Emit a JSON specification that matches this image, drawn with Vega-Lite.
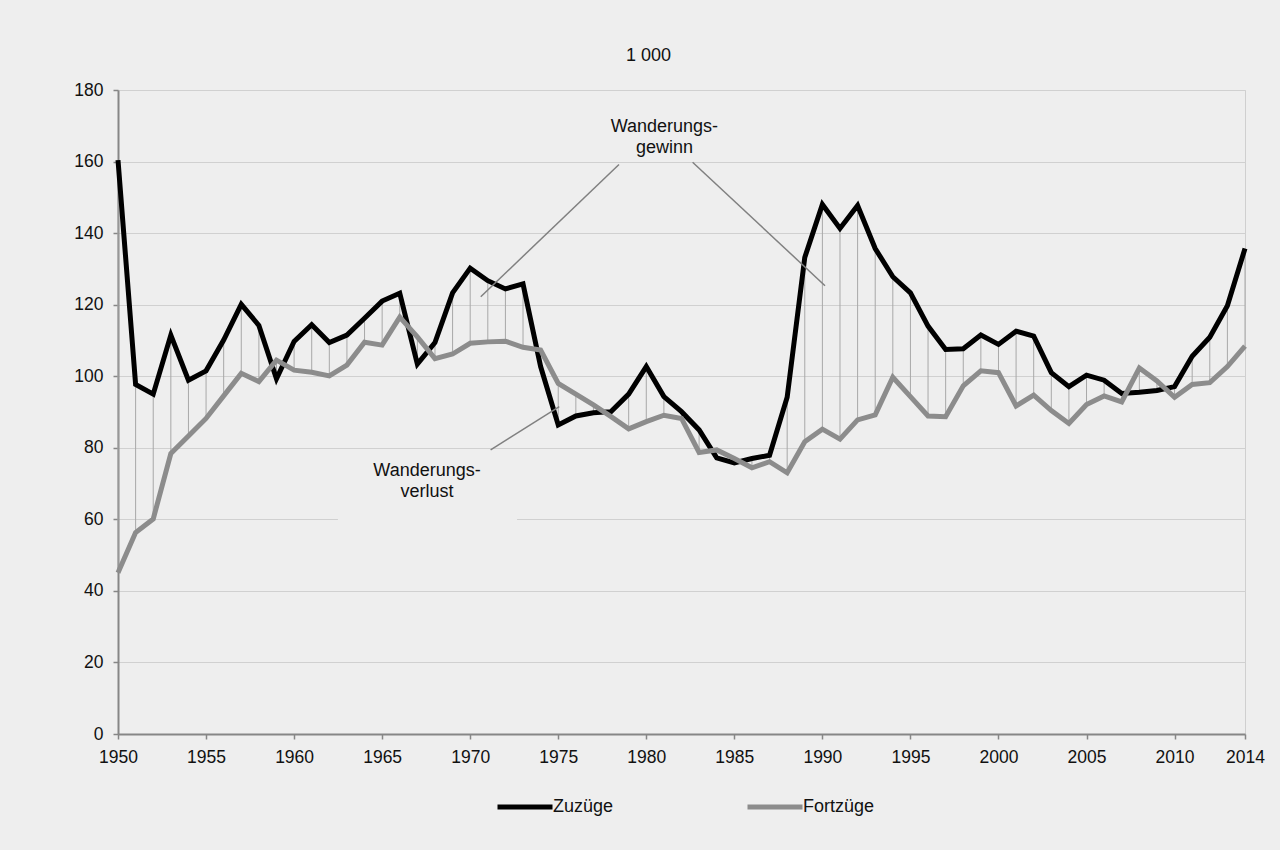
{
  "$schema": "https://vega.github.io/schema/vega-lite/v6.json",
  "width": 1127,
  "height": 644,
  "autosize": {"type": "none"},
  "padding": {"left": 118, "top": 90, "right": 35, "bottom": 116},
  "background": "#eeeeee",
  "title": {"text": "1 000", "anchor": "middle", "dx": -33, "baseline": "alphabetic", "offset": 2, "fontSize": 18, "fontWeight": "normal", "color": "#111111", "font": "Liberation Sans"},
  "datasets": {
    "wide": [
      {"year": 1950, "Zuzüge": 160.4, "Fortzüge": 45.1},
      {"year": 1951, "Zuzüge": 97.7, "Fortzüge": 56.3},
      {"year": 1952, "Zuzüge": 95.0, "Fortzüge": 60.1},
      {"year": 1953, "Zuzüge": 111.5, "Fortzüge": 78.4},
      {"year": 1954, "Zuzüge": 98.9, "Fortzüge": 83.3},
      {"year": 1955, "Zuzüge": 101.5, "Fortzüge": 88.2},
      {"year": 1956, "Zuzüge": 110.1, "Fortzüge": 94.5},
      {"year": 1957, "Zuzüge": 120.1, "Fortzüge": 100.8},
      {"year": 1958, "Zuzüge": 114.2, "Fortzüge": 98.5},
      {"year": 1959, "Zuzüge": 99.3, "Fortzüge": 104.5},
      {"year": 1960, "Zuzüge": 109.7, "Fortzüge": 101.7},
      {"year": 1961, "Zuzüge": 114.4, "Fortzüge": 101.1},
      {"year": 1962, "Zuzüge": 109.4, "Fortzüge": 100.1},
      {"year": 1963, "Zuzüge": 111.5, "Fortzüge": 103.1},
      {"year": 1964, "Zuzüge": 116.2, "Fortzüge": 109.5},
      {"year": 1965, "Zuzüge": 121.0, "Fortzüge": 108.7},
      {"year": 1966, "Zuzüge": 123.2, "Fortzüge": 116.5},
      {"year": 1967, "Zuzüge": 103.4, "Fortzüge": 111.0},
      {"year": 1968, "Zuzüge": 109.4, "Fortzüge": 104.9},
      {"year": 1969, "Zuzüge": 123.3, "Fortzüge": 106.2},
      {"year": 1970, "Zuzüge": 130.2, "Fortzüge": 109.2},
      {"year": 1971, "Zuzüge": 126.7, "Fortzüge": 109.6},
      {"year": 1972, "Zuzüge": 124.4, "Fortzüge": 109.8},
      {"year": 1973, "Zuzüge": 125.8, "Fortzüge": 108.1},
      {"year": 1974, "Zuzüge": 102.7, "Fortzüge": 107.3},
      {"year": 1975, "Zuzüge": 86.4, "Fortzüge": 98.0},
      {"year": 1976, "Zuzüge": 88.9, "Fortzüge": 95.0},
      {"year": 1977, "Zuzüge": 89.8, "Fortzüge": 92.0},
      {"year": 1978, "Zuzüge": 90.1, "Fortzüge": 88.7},
      {"year": 1979, "Zuzüge": 95.0, "Fortzüge": 85.3},
      {"year": 1980, "Zuzüge": 102.7, "Fortzüge": 87.3},
      {"year": 1981, "Zuzüge": 94.3, "Fortzüge": 89.1},
      {"year": 1982, "Zuzüge": 90.1, "Fortzüge": 88.2},
      {"year": 1983, "Zuzüge": 85.0, "Fortzüge": 78.7},
      {"year": 1984, "Zuzüge": 77.2, "Fortzüge": 79.4},
      {"year": 1985, "Zuzüge": 75.8, "Fortzüge": 77.0},
      {"year": 1986, "Zuzüge": 77.0, "Fortzüge": 74.4},
      {"year": 1987, "Zuzüge": 77.9, "Fortzüge": 76.1},
      {"year": 1988, "Zuzüge": 94.1, "Fortzüge": 73.0},
      {"year": 1989, "Zuzüge": 133.2, "Fortzüge": 81.7},
      {"year": 1990, "Zuzüge": 148.0, "Fortzüge": 85.2},
      {"year": 1991, "Zuzüge": 141.3, "Fortzüge": 82.4},
      {"year": 1992, "Zuzüge": 147.7, "Fortzüge": 87.8},
      {"year": 1993, "Zuzüge": 135.7, "Fortzüge": 89.2},
      {"year": 1994, "Zuzüge": 127.8, "Fortzüge": 99.7},
      {"year": 1995, "Zuzüge": 123.3, "Fortzüge": 94.3},
      {"year": 1996, "Zuzüge": 114.0, "Fortzüge": 88.9},
      {"year": 1997, "Zuzüge": 107.5, "Fortzüge": 88.7},
      {"year": 1998, "Zuzüge": 107.7, "Fortzüge": 97.3},
      {"year": 1999, "Zuzüge": 111.5, "Fortzüge": 101.5},
      {"year": 2000, "Zuzüge": 108.9, "Fortzüge": 101.0},
      {"year": 2001, "Zuzüge": 112.6, "Fortzüge": 91.7},
      {"year": 2002, "Zuzüge": 111.2, "Fortzüge": 94.7},
      {"year": 2003, "Zuzüge": 101.0, "Fortzüge": 90.4},
      {"year": 2004, "Zuzüge": 97.1, "Fortzüge": 86.8},
      {"year": 2005, "Zuzüge": 100.3, "Fortzüge": 92.1},
      {"year": 2006, "Zuzüge": 98.9, "Fortzüge": 94.5},
      {"year": 2007, "Zuzüge": 95.2, "Fortzüge": 92.8},
      {"year": 2008, "Zuzüge": 95.5, "Fortzüge": 102.3},
      {"year": 2009, "Zuzüge": 96.0, "Fortzüge": 98.7},
      {"year": 2010, "Zuzüge": 97.1, "Fortzüge": 94.1},
      {"year": 2011, "Zuzüge": 105.6, "Fortzüge": 97.7},
      {"year": 2012, "Zuzüge": 110.9, "Fortzüge": 98.2},
      {"year": 2013, "Zuzüge": 119.7, "Fortzüge": 102.7},
      {"year": 2014, "Zuzüge": 135.7, "Fortzüge": 108.4}
    ],
    "leaders": [
      {"x": 1978.45, "y": 159.2, "x2": 1970.6, "y2": 122.2},
      {"x": 1982.63, "y": 159.8, "x2": 1990.15, "y2": 125.3},
      {"x": 1971.16, "y": 79.4, "x2": 1975.06, "y2": 91.5}
    ],
    "labels": [
      {"x": 1981.03, "y": 169.7, "label": "Wanderungs-\ngewinn"},
      {"x": 1967.55, "y": 73.6, "label": "Wanderungs-\nverlust"}
    ],
    "boxes": [
      {"x": 1962.49, "x2": 1972.66, "y": 58.5, "y2": 79.2}
    ]
  },
  "layer": [
    {
      "data": {"name": "boxes"},
      "mark": {"type": "rect", "fill": "#eeeeee", "stroke": null},
      "encoding": {
        "x": {"field": "x", "type": "quantitative", "title": null,
              "scale": {"domain": [1950, 2014], "nice": false, "zero": false},
              "axis": {"values": [1950, 1955, 1960, 1965, 1970, 1975, 1980, 1985, 1990, 1995, 2000, 2005, 2010, 2014], "format": "d", "grid": false, "labelFlush": false, "labelOverlap": false}},
        "x2": {"field": "x2"},
        "y": {"field": "y", "type": "quantitative", "title": null,
              "scale": {"domain": [0, 180], "nice": false},
              "axis": {"values": [0, 20, 40, 60, 80, 100, 120, 140, 160, 180], "grid": true}},
        "y2": {"field": "y2"}
      }
    },
    {
      "data": {"name": "wide"},
      "mark": {"type": "rule", "color": "#a8a8a8", "strokeWidth": 1},
      "encoding": {
        "x": {"field": "year", "type": "quantitative", "title": null},
        "y": {"field": "Zuzüge", "type": "quantitative", "title": null},
        "y2": {"field": "Fortzüge"}
      }
    },
    {
      "data": {"name": "wide"},
      "mark": {"type": "line", "strokeWidth": 5},
      "encoding": {
        "x": {"field": "year", "type": "quantitative", "title": null},
        "y": {"field": "Zuzüge", "type": "quantitative", "title": null},
        "color": {"datum": "Zuzüge", "type": "nominal",
                  "scale": {"domain": ["Zuzüge", "Fortzüge"], "range": ["#000000", "#8c8c8c"]},
                  "legend": {"orient": "none", "legendX": 377, "legendY": 687, "direction": "horizontal", "title": null,
                             "symbolType": "stroke", "symbolSize": 3025, "symbolStrokeWidth": 5,
                             "labelFontSize": 18, "labelOffset": -2, "columnPadding": 123, "labelColor": "#111111", "labelFont": "Liberation Sans"}}
      }
    },
    {
      "data": {"name": "wide"},
      "mark": {"type": "line", "strokeWidth": 5},
      "encoding": {
        "x": {"field": "year", "type": "quantitative", "title": null},
        "y": {"field": "Fortzüge", "type": "quantitative", "title": null},
        "color": {"datum": "Fortzüge", "type": "nominal"}
      }
    },
    {
      "data": {"name": "leaders"},
      "mark": {"type": "rule", "color": "#808080", "strokeWidth": 1.5},
      "encoding": {
        "x": {"field": "x", "type": "quantitative", "title": null},
        "x2": {"field": "x2"},
        "y": {"field": "y", "type": "quantitative", "title": null},
        "y2": {"field": "y2"}
      }
    },
    {
      "data": {"name": "labels"},
      "mark": {"type": "text", "align": "center", "baseline": "middle", "lineBreak": "\n", "lineHeight": 21, "fontSize": 18, "color": "#111111", "font": "Liberation Sans"},
      "encoding": {
        "x": {"field": "x", "type": "quantitative", "title": null},
        "y": {"field": "y", "type": "quantitative", "title": null},
        "text": {"field": "label"}
      }
    }
  ],
  "config": {
    "font": "Liberation Sans",
    "view": {"stroke": "#cfcfcf", "strokeWidth": 1},
    "axis": {
      "domainColor": "#868686", "domainWidth": 2,
      "tickColor": "#868686", "tickWidth": 1.5, "tickSize": 5,
      "gridColor": "#d0d0d0", "gridWidth": 1,
      "labelFontSize": 17.5, "labelColor": "#111111", "labelFont": "Liberation Sans"
    },
    "axisY": {"labelPadding": 10},
    "axisX": {"labelPadding": 9}
  }
}
